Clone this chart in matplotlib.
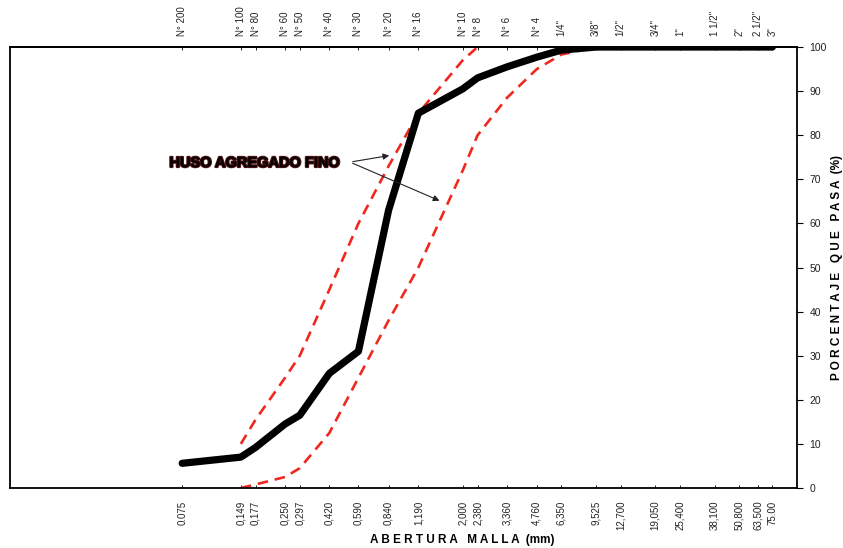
import numpy as np
import matplotlib
matplotlib.use("Agg")
import matplotlib.pyplot as plt
import matplotlib.patheffects as pe

plt.rcParams['font.family'] = ['Liberation Sans', 'DejaVu Sans']

# aberturas de malla (mm) y nombres de tamiz
aberturas = [0.075, 0.149, 0.177, 0.250, 0.297, 0.420, 0.590, 0.840, 1.190,
             2.000, 2.380, 3.360, 4.760, 6.350, 9.525, 12.700, 19.050, 25.400,
             38.100, 50.800, 63.500, 75.00]
etiquetas_mm = ["0.075", "0,149", "0,177", "0,250", "0,297", "0,420", "0,590",
                "0,840", "1,190", "2,000", "2,380", "3,360", "4,760", "6,350",
                "9,525", "12,700", "19,050", "25,400", "38,100", "50,800",
                "63,500", "75.00"]
tamices = ["N° 200", "N° 100", "N° 80", "N° 60", "N° 50", "N° 40", "N° 30",
           "N° 20", "N° 16", "N° 10", "N° 8", "N° 6", "N° 4", '1/4"', '3/8"',
           '1/2"', '3/4"', '1"', '1 1/2"', '2"', '2 1/2"', '3"']

# curva granulometrica del agregado (% que pasa)
pasa = [5.6, 7.0, 9.2, 14.5, 16.5, 26.0, 31.0, 63.0, 85.0,
        90.5, 93.0, 95.5, 97.7, 99.3, 100, 100, 100, 100,
        100, 100, 100, 100]

# huso agregado fino
huso_x = [0.149, 0.177, 0.250, 0.297, 0.420, 0.590, 0.840, 1.190, 2.000, 2.380,
          3.360, 4.760, 6.350, 9.525]
huso_sup = [10, 15.5, 25, 30, 45, 60, 73, 85, 97, 100,
            None, None, None, None]
huso_inf = [0, 0.8, 2.5, 4.5, 12.5, 25, 38, 50, 72, 80,
            88.5, 95, 98.3, 100]

fig = plt.figure(figsize=(8.43, 5.48), dpi=100)
ax = fig.add_axes([0.0119, 0.1095, 0.9335, 0.8047])

sup_x = [x for x, v in zip(huso_x, huso_sup) if v is not None]
sup_y = [v for v in huso_sup if v is not None]
ax.plot(sup_x, sup_y, color='#f0281e', lw=1.9, dashes=(4, 2.6), zorder=2)
ax.plot(huso_x, huso_inf, color='#f0281e', lw=1.9, dashes=(4, 2.6), zorder=2)
ax.plot(aberturas, pasa, color='black', lw=5.2, solid_capstyle='round',
        solid_joinstyle='round', zorder=3)

ax.set_xscale('log')
ax.set_xlim(0.01, 100)
ax.set_ylim(0, 100)

# eje x inferior
ax.set_xticks(aberturas)
ax.set_xticklabels(etiquetas_mm, rotation=90, fontsize=7, color='#222222')
ax.xaxis.set_minor_locator(matplotlib.ticker.NullLocator())
ax.tick_params(axis='x', direction='in', length=2, pad=9, width=0.6)

# eje x superior
sec = ax.secondary_xaxis('top')
sec.set_xticks(aberturas)
sec.set_xticklabels(tamices, rotation=90, fontsize=7, color='#222222')
sec.xaxis.set_minor_locator(matplotlib.ticker.NullLocator())
sec.tick_params(axis='x', direction='in', length=2, pad=8, width=0.6)

# eje y a la derecha
ax.yaxis.tick_right()
ax.yaxis.set_label_position('right')
ax.set_yticks(np.arange(0, 101, 10))
ax.tick_params(axis='y', direction='out', length=4, width=0.8, labelsize=7.5,
               labelcolor='#222222', pad=5)
ax.set_ylabel("P O R C E N T A J E   Q U E   P A S A  (%)", fontsize=8.5,
              fontweight='bold', labelpad=2)
ax.yaxis.set_label_coords(1.043, 0.5)
ax.set_xlabel("A B E R T U R A   M A L L A  (mm)", fontsize=8.5,
              fontweight='bold')
ax.xaxis.set_label_coords(0.575, -0.105)

for s in ax.spines.values():
    s.set_linewidth(1.3)
sec.spines['top'].set_linewidth(1.3)

# anotacion
ax.text(0.176, 73.7, "HUSO AGREGADO FINO", fontsize=10.5, fontweight='heavy',
        ha='center', va='center', color='black',
        path_effects=[pe.withStroke(linewidth=1.6, foreground='#4a1010')])
ax.annotate("", xy=(0.874, 75.5), xytext=(0.535, 73.9),
            arrowprops=dict(arrowstyle='-|>', color='#222222', lw=0.8,
                            mutation_scale=9))
ax.annotate("", xy=(1.57, 64.9), xytext=(0.535, 73.9),
            arrowprops=dict(arrowstyle='-|>', color='#222222', lw=0.8,
                            mutation_scale=9))

fig.savefig("out.png", dpi=100)
